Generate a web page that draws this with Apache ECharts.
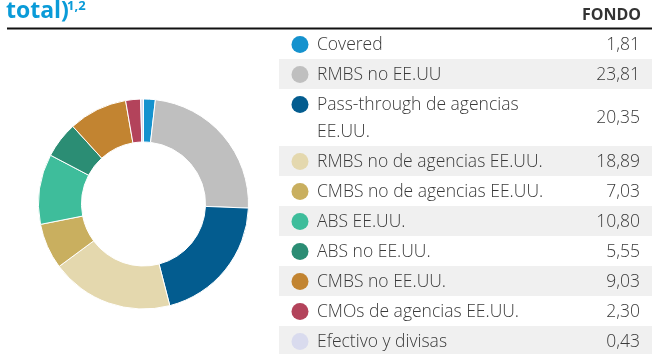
<!DOCTYPE html>
<html>
<head>
<meta charset="utf-8">
<script src="https://cdn.jsdelivr.net/npm/echarts@6/dist/echarts.min.js"></script>
<style>
  html, body { margin: 0; padding: 0; background: #fff; }
  #chart { width: 652px; height: 354px; }
</style>
</head>
<body>
<div id="chart"></div>
<script>
// Portfolio breakdown (% of fund)
const categories = [
  'Covered',
  'RMBS no EE.UU',
  'Pass-through de agencias\nEE.UU.',
  'RMBS no de agencias EE.UU.',
  'CMBS no de agencias EE.UU.',
  'ABS EE.UU.',
  'ABS no EE.UU.',
  'CMBS no EE.UU.',
  'CMOs de agencias EE.UU.',
  'Efectivo y divisas'
];
const fondo = [1.81, 23.81, 20.35, 18.89, 7.03, 10.80, 5.55, 9.03, 2.30, 0.43];
const colors = [
  '#1592CE', '#BFBFBF', '#035C8F', '#E4D8AE', '#C9AF5F',
  '#3EBD9B', '#2B8D74', '#C28431', '#B3435B', '#D9DBEE'
];
const columnHeader = 'FONDO';
const titleText = 'total)';
const titleNote = '1,2';

const chart = echarts.init(document.getElementById('chart'), null, { renderer: 'canvas' });

const FONT = '"Open Sans", "Noto Sans", sans-serif';
const TEXT_COLOR = '#3a3a3a';
const BLUE = '#0A9BD8';
const tableLeft = 279, tableRight = 652;
const rowTop0 = 29, rowH = 30, lineH = 27;

const fmt = v => v.toFixed(2).replace('.', ',');

// Table rows: zebra background, colour dot, label and value
const graphics = [];
let y = rowTop0;
categories.forEach((name, i) => {
  const lines = name.split('\n').length;
  const h = lines === 1 ? rowH : rowH + lineH;
  if (i % 2 === 1) {
    graphics.push({
      type: 'rect', silent: true,
      shape: { x: tableLeft, y: y, width: tableRight - tableLeft, height: h },
      style: { fill: '#F0F0F0' }
    });
  }
  const firstLineY = y + 15.5;
  graphics.push({
    type: 'circle', silent: true,
    shape: { cx: 300, cy: firstLineY, r: 8.5 },
    style: { fill: colors[i] }
  });
  graphics.push({
    type: 'text', silent: true,
    x: 317, y: firstLineY - lineH / 2 + 0.5,
    style: {
      text: name, fill: TEXT_COLOR, font: '300 17.5px ' + FONT,
      lineHeight: lineH, verticalAlign: 'top', align: 'left'
    }
  });
  graphics.push({
    type: 'text', silent: true,
    x: 640, y: y + h / 2 + 1,
    style: {
      text: fmt(fondo[i]), fill: TEXT_COLOR, font: '300 17.5px ' + FONT,
      align: 'right', verticalAlign: 'middle'
    }
  });
  y += h;
});

// Header rule, title and column header
graphics.push({
  type: 'line', silent: true,
  shape: { x1: 7, y1: 28.5, x2: 652, y2: 28.5 },
  style: { stroke: '#111', lineWidth: 2 }
});
graphics.push({
  type: 'text', silent: true,
  x: 6, y: 11.5,
  style: {
    text: titleText, fill: BLUE, font: 'bold 23px ' + FONT,
    align: 'left', verticalAlign: 'middle'
  }
});
graphics.push({
  type: 'text', silent: true,
  x: 67, y: 0,
  style: {
    text: titleNote, fill: BLUE, font: 'bold 13px ' + FONT,
    align: 'left', verticalAlign: 'top'
  }
});
graphics.push({
  type: 'text', silent: true,
  x: 641, y: 15,
  style: {
    text: columnHeader, fill: '#333', font: 'bold 16px ' + FONT,
    align: 'right', verticalAlign: 'middle'
  }
});

chart.setOption({
  animation: false,
  series: [{
    type: 'pie',
    center: [143.5, 204],
    radius: [62, 105],
    startAngle: 90,
    clockwise: true,
    label: { show: false },
    labelLine: { show: false },
    emphasis: { disabled: true },
    itemStyle: { borderColor: '#fff', borderWidth: 1 },
    data: categories.map((c, i) => ({
      name: c, value: fondo[i], itemStyle: { color: colors[i] }
    }))
  }],
  graphic: graphics
});
</script>
</body>
</html>
